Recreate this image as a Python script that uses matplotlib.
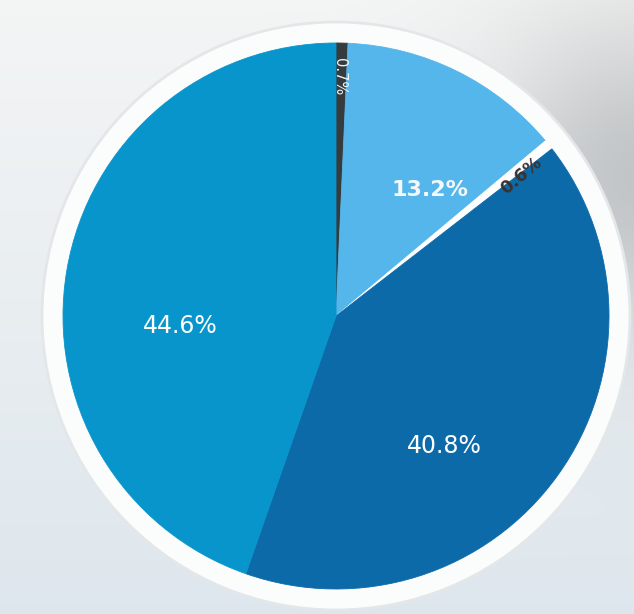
import numpy as np
import matplotlib.pyplot as plt
from matplotlib.patches import Circle

# Share of each segment, clockwise from 12 o'clock
labels = ["0.7%", "13.2%", "0.6%", "40.8%", "44.6%"]
values = [0.7, 13.2, 0.6, 40.8, 44.6]
colors = ["#363b3e", "#55b6ec", "#ffffff", "#0c6aa9", "#0895cb"]

W, H = 634, 614
fig = plt.figure(figsize=(W / 100, H / 100), dpi=100)
ax = fig.add_axes([0, 0, 1, 1])

# soft photographic backdrop: pale top, bluish bottom, grey shading at upper right
yy, xx = np.mgrid[0:H, 0:W]
t = yy / H
base_top = np.array([0.955, 0.96, 0.96])
base_bot = np.array([0.87, 0.905, 0.93])
bg = base_top[None, None, :] * (1 - t[..., None]) + base_bot[None, None, :] * t[..., None]
shade = np.exp(-(((xx - 640) / 150.0) ** 2 + ((yy - 170) / 160.0) ** 2))
bg = bg - 0.17 * shade[..., None]
bg = np.clip(bg, 0, 1)
ax.imshow(bg, extent=(0, W, 0, H), origin="upper", zorder=0)

cx, cy, r = 336, H - 316, 273

# white rim around the pie
ax.add_patch(Circle((cx, cy), r + 21, facecolor="#fbfcfc", edgecolor="#e3e7e9",
                    linewidth=2, zorder=1))

wedges, _ = ax.pie(values, colors=colors, startangle=90, counterclock=False,
                   center=(cx, cy), radius=r, frame=True)
for w, c in zip(wedges, colors):
    w.set_zorder(2)
    w.set_edgecolor(c)
    w.set_linewidth(0.6)

ax.set_xlim(0, W)
ax.set_ylim(0, H)
ax.set_aspect("equal")
ax.axis("off")

# value labels
ax.text(180, H - 326, labels[4], color="white", fontsize=17, ha="center", va="center",
        family="DejaVu Sans", zorder=3)
ax.text(444, H - 446, labels[3], color="white", fontsize=17, ha="center", va="center",
        family="DejaVu Sans", zorder=3)
ax.text(430, H - 190, labels[1], color="#f2f8fc", fontsize=16, ha="center", va="center",
        fontweight="bold", family="DejaVu Sans", zorder=3)
ax.text(340, H - 77, labels[0], color="#f4f4f4", fontsize=10.5, ha="center", va="center",
        rotation=270, family="DejaVu Sans", zorder=3)
ax.text(521, H - 176, labels[2], color="#3a3230", fontsize=12.5, ha="center", va="center",
        rotation=40, fontweight="bold", family="DejaVu Sans", zorder=3)

fig.savefig("out.png", dpi=100)
